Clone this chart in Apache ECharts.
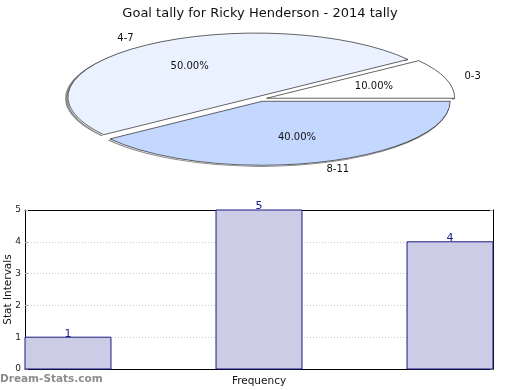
<!DOCTYPE html>
<html>
<head>
<meta charset="utf-8">
<script src="https://cdn.jsdelivr.net/npm/echarts@6/dist/echarts.min.js"></script>
<style>html,body{margin:0;padding:0;background:#fff}#c{width:520px;height:390px}</style>
</head>
<body>
<div id="c"></div>
<script>
const titleText = 'Goal tally for Ricky Henderson - 2014 tally';
const pieCategories = ['0-3', '4-7', '8-11'];
const pieValues = [1, 5, 4];
const pieColors = ['#ffffff', '#ebf2ff', '#c4d8ff'];
const barPositions = [0, 1, 2];
const barValues = [1, 5, 4];
const yTicks = [0, 1, 2, 3, 4, 5];

const FONT = 'DejaVu Sans';
const CX = 260, CY = 99, RX = 188, RY = 64, EXPLODE = 7;
const K = RY / RX;
const BAR_W = 0.45; // bar width in x-axis units

const chart = echarts.init(document.getElementById('c'), null, {renderer: 'canvas'});
const total = pieValues.reduce((a, b) => a + b, 0);

function renderSlice(params, api) {
  const i = params.dataIndex;
  let before = 0;
  for (let j = 0; j < i; j++) before += pieValues[j];
  const v = api.value(0);
  const a0 = before / total * Math.PI * 2;
  const a1 = (before + v) / total * Math.PI * 2;
  const mid = (a0 + a1) / 2;
  const cx = CX + EXPLODE * Math.cos(mid);
  const cy = CY - EXPLODE * Math.sin(mid) * K;
  const cos = Math.cos(mid), sin = Math.sin(mid);
  const pct = (v / total * 100).toFixed(2) + '%';
  return {
    type: 'group',
    children: [
      {
        type: 'arc',
        x: cx - 1.5, y: cy + 1.2, scaleY: K,
        shape: {cx: 0, cy: 0, r: RX, startAngle: -a1, endAngle: -a0, clockwise: true},
        style: {fill: null, stroke: '#8a8a8a', lineWidth: 2.5, strokeNoScale: true}
      },
      {
        type: 'sector',
        x: cx, y: cy, scaleY: K,
        shape: {cx: 0, cy: 0, r: RX, r0: 0, startAngle: -a1, endAngle: -a0, clockwise: true},
        style: {fill: pieColors[i], stroke: '#1a1a1a', lineWidth: 1, strokeNoScale: true}
      },
      {
        type: 'text',
        x: cx + RX * 0.6 * cos, y: cy - RY * 0.6 * sin,
        style: {text: pct, fill: '#111', font: '10px "' + FONT + '"', align: 'center', verticalAlign: 'middle'}
      },
      {
        type: 'text',
        x: cx + (RX + 20) * cos, y: cy - (RY + 8) * sin,
        style: {text: pieCategories[i], fill: '#111', font: '10px "' + FONT + '"',
          align: cos >= 0 ? 'left' : 'right', verticalAlign: 'middle'}
      }
    ]
  };
}

function renderBar(params, api) {
  const x = api.value(0), y = api.value(1);
  const top = api.coord([x, y]);
  const base = api.coord([x, 0]);
  const w = api.size([BAR_W, 0])[0];
  return {
    type: 'group',
    children: [
      {
        type: 'rect',
        shape: {x: top[0] - w / 2, y: top[1], width: w, height: base[1] - top[1]},
        style: {fill: '#ccccE6', stroke: '#1a1a80', lineWidth: 1}
      },
      {
        type: 'text',
        x: top[0], y: top[1] + 2,
        style: {text: String(y), fill: '#1a1a90', font: '11px "' + FONT + '"', align: 'center', verticalAlign: 'bottom'}
      }
    ]
  };
}

const axisLineBlack = {show: true, onZero: false, lineStyle: {color: '#000', width: 1}};

const option = {
  animation: false,
  backgroundColor: '#fff',
  title: {
    text: titleText, left: 'center', top: 2,
    textStyle: {fontFamily: FONT, fontSize: 13, fontWeight: 'normal', color: '#111'}
  },
  graphic: [{
    type: 'text', left: 0, top: 374,
    style: {text: 'Dream-Stats.com', fill: '#8c8c8c', font: 'bold 10.5px "' + FONT + '"'}
  }],
  grid: {left: 25, top: 210, right: 27, bottom: 21, containLabel: false, outerBoundsMode: 'none'},
  xAxis: [{
    type: 'value', min: -0.225, max: 2.225, interval: 0.025, position: 'bottom',
    name: 'Frequency', nameLocation: 'middle', nameGap: 7, nameMoveOverlap: false,
    nameTextStyle: {fontFamily: FONT, fontSize: 10.5, color: '#111'},
    axisLine: axisLineBlack,
    axisTick: {show: false}, axisLabel: {show: false}, splitLine: {show: false}
  }, {
    type: 'value', min: -0.225, max: 2.225, interval: 0.025, position: 'top',
    axisLine: axisLineBlack,
    axisTick: {show: false}, axisLabel: {show: false}, splitLine: {show: false}
  }],
  yAxis: [{
    type: 'value', min: yTicks[0], max: yTicks[yTicks.length - 1], interval: 1, position: 'left',
    name: 'Stat Intervals', nameLocation: 'middle', nameGap: 11, nameMoveOverlap: false,
    nameTextStyle: {fontFamily: FONT, fontSize: 10.5, color: '#111'},
    axisLine: axisLineBlack,
    axisTick: {show: true, inside: true, length: 3, lineStyle: {color: '#aaa'}},
    axisLabel: {fontFamily: FONT, fontSize: 9, color: '#222', margin: 4},
    splitLine: {show: true, lineStyle: {color: '#c8c8c8', type: [1, 2], width: 1}}
  }, {
    type: 'value', min: yTicks[0], max: yTicks[yTicks.length - 1], interval: 1, position: 'right',
    axisLine: axisLineBlack,
    axisTick: {show: true, inside: true, length: 3, lineStyle: {color: '#aaa'}},
    axisLabel: {show: false}, splitLine: {show: false}
  }],
  series: [{
    type: 'custom',
    coordinateSystem: 'none',
    renderItem: renderSlice,
    data: pieValues.map(v => [v]),
    silent: true
  }, {
    type: 'custom',
    coordinateSystem: 'cartesian2d',
    xAxisIndex: 0, yAxisIndex: 0,
    renderItem: renderBar,
    data: barPositions.map((x, i) => [x, barValues[i]]),
    clip: false,
    z: 3
  }]
};
chart.setOption(option);
</script>
</body>
</html>
